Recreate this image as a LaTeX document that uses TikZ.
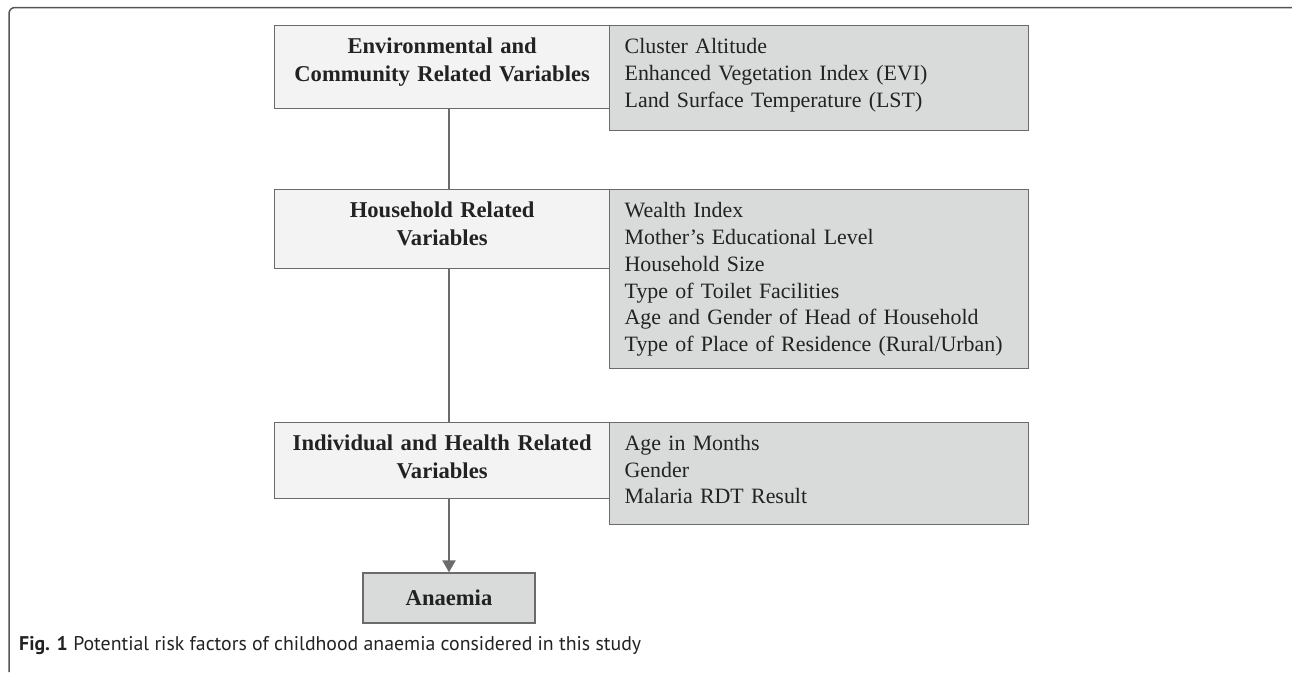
\documentclass[tikz,border=0pt]{standalone}
\usepackage{fontspec}
\setmainfont{Liberation Serif}
\newfontfamily\capfont{PT Sans}
\usetikzlibrary{arrows.meta}
\definecolor{edgegray}{HTML}{6B6B6B}
\definecolor{framegray}{HTML}{555555}
\definecolor{lightfill}{HTML}{F3F3F3}
\definecolor{darkfill}{HTML}{D9DADA}
\definecolor{txt}{HTML}{222222}
\begin{document}
\begin{tikzpicture}[x=1pt,y=-1pt,factor/.style={draw=edgegray,line width=1.3pt,fill=lightfill,anchor=north west,inner xsep=6pt,inner ysep=12.5pt,text height=15.5pt,text width=323pt,align=center,text=txt,font=\bfseries\fontsize{22.6}{28}\selectfont},varlist/.style={factor,fill=darkfill,inner xsep=15pt,text width=389pt,align=left,font=\fontsize{21.9}{26.8}\selectfont},outcome/.style={draw=edgegray,line width=1.3pt,fill=darkfill,minimum width=172pt,minimum height=50pt,text=txt,font=\bfseries\fontsize{22.6}{28}\selectfont},link/.style={draw=edgegray,line width=2.2pt}]
\useasboundingbox (0,0) rectangle (1292,672);
\def\xl{274};
\def\xr{609};

\draw[framegray,line width=1.5pt,rounded corners=6pt] (9,672) -- (9,7.5) -- (1292,7.5);

\node[factor,text depth=42.5pt] (env) at (\xl,25) {Environmental and\\Community Related Variables};
\node[varlist,text depth=64.5pt] (envV) at (\xr,25) {Cluster Altitude\\Enhanced Vegetation Index (EVI)\\Land Surface Temperature (LST)};

\node[factor,text depth=38.5pt] (house) at (\xl,189) {Household Related\\Variables};
\node[varlist,text depth=138.5pt] (houseV) at (\xr,189) {Wealth Index\\Mother’s Educational Level\\Household Size\\Type of Toilet Facilities\\Age and Gender of Head of Household\\Type of Place of Residence (Rural/Urban)};

\node[factor,text depth=35.8pt] (indiv) at (\xl,421.7) {Individual and Health Related\\Variables};
\node[varlist,text depth=61.8pt] (indivV) at (\xr,421.7) {Age in Months\\Gender\\Malaria RDT Result};

\node[outcome] (ana) at (449,598) {Anaemia};

\draw[link] (env.south -| ana.north) -- (house.north -| ana.north);
\draw[link] (house.south -| ana.north) -- (indiv.north -| ana.north);
\draw[link,-{Triangle[width=13pt,length=12pt]}] (indiv.south -| ana.north) -- (ana.north);

\node[anchor=base west,inner sep=0pt,text=txt,font=\capfont\fontsize{19.8}{22}\selectfont] (cap) at (19,650) {\textbf{Fig. 1} Potential risk factors of childhood anaemia considered in this study};
\end{tikzpicture}
\end{document}
